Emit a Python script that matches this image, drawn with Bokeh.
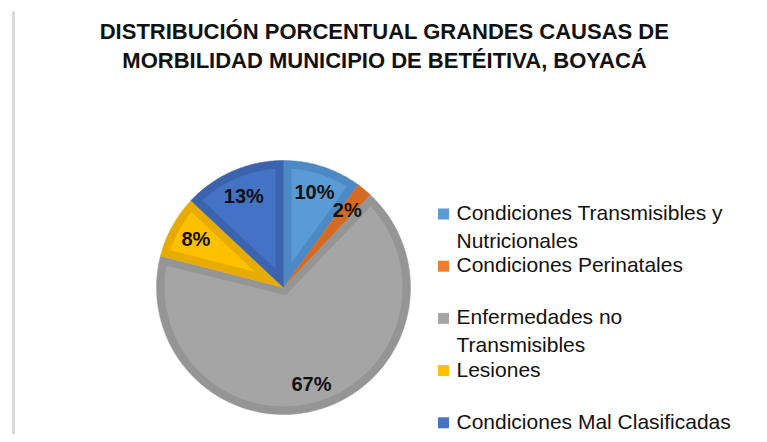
import numpy as np
from bokeh.plotting import figure
from bokeh.models import Range1d
from bokeh.core.properties import value
from bokeh.embed import file_html
from bokeh.resources import INLINE

# ---- data ----
categories = ["Condiciones Transmisibles y Nutricionales", "Condiciones Perinatales",
              "Enfermedades no Transmisibles", "Lesiones", "Condiciones Mal Clasificadas"]
legend_lines = [["Condiciones Transmisibles y", "Nutricionales"], ["Condiciones Perinatales"],
                ["Enfermedades no", "Transmisibles"], ["Lesiones"], ["Condiciones Mal Clasificadas"]]
percentages = [10, 2, 67, 8, 13]
fill_colors = ["#5B9BD5", "#ED7D31", "#A5A5A5", "#FFC000", "#4472C4"]
edge_colors = ["#4D89C4", "#D56A22", "#959595", "#E6AC00", "#3C63AD"]
title_lines = ["DISTRIBUCIÓN PORCENTUAL GRANDES CAUSAS DE", "MORBILIDAD MUNICIPIO DE BETÉITIVA, BOYACÁ"]

# ---- layout constants (pixel space of the figure) ----
W, H = 759, 434
CX, CY, R = 283.0, 287.0, 127.0
BORDER = 8.0
FONT = "Liberation Sans"

p = figure(width=W, height=H, output_backend="svg", toolbar_location=None,
           x_range=Range1d(0, W), y_range=Range1d(H, 0), min_border=0,
           outline_line_color=None)
p.axis.visible = False
p.grid.visible = False

# left light rule
p.segment(x0=[13], y0=[11], x1=[13], y1=[H], line_color="#D9D9D9", line_width=3)

def pt(a_deg, r, cx=CX, cy=CY):
    a = np.radians(a_deg)
    return cx + r * np.sin(a), cy - r * np.cos(a)

total = float(sum(percentages))
angles = np.cumsum([0] + [v / total * 360.0 for v in percentages])

outer_xs, outer_ys, inner_xs, inner_ys, inner_cols = [], [], [], [], []
for i in range(len(percentages)):
    a0, a1 = angles[i], angles[i + 1]
    arc = np.linspace(a0, a1, 80)
    x, y = pt(arc, R)
    outer_xs.append([CX] + list(x))
    outer_ys.append([CY] + list(y))
    half = np.radians((a1 - a0) / 2.0)
    shift = BORDER / np.sin(half) if half < np.pi / 2 else BORDER
    if shift < R - BORDER - 2:
        mid = (a0 + a1) / 2.0
        ax, ay = pt(mid, shift)
        ri = R - BORDER
        da = np.degrees(np.arcsin(min(1.0, BORDER / ri)))
        arc2 = np.linspace(a0 + da, a1 - da, 80)
        xi, yi = pt(arc2, ri)
        inner_xs.append([ax] + list(xi))
        inner_ys.append([ay] + list(yi))
        inner_cols.append(fill_colors[i])

p.patches(outer_xs, outer_ys, fill_color=edge_colors, line_color=edge_colors, line_width=0.5)
p.patches(inner_xs, inner_ys, fill_color=inner_cols, line_color=None)

# data labels
mids = (angles[:-1] + angles[1:]) / 2.0
lx, ly = pt(mids, 100.0)
p.text(x=list(lx), y=list(ly), text=[f"{v}%" for v in percentages],
       text_font=value(FONT), text_font_style="bold", text_font_size="20px",
       text_color="#111111", text_align="center", text_baseline="middle")

# title
p.text(x=[384, 384], y=[31, 60], text=title_lines, text_font=value(FONT),
       text_font_style="bold", text_font_size="22px", text_color="#111111",
       text_align="center", text_baseline="middle")

# legend
leg_y0, leg_step = 212.0, 52.2
sq_x, txt_x, line_gap = 443.0, 456.0, 27.5
sq_y = [leg_y0 + k * leg_step for k in range(len(categories))]
p.rect(x=[sq_x] * len(categories), y=[v + 1.5 for v in sq_y], width=11, height=11,
       fill_color=fill_colors, line_color=None)
tx, ty, tt = [], [], []
for k, lines in enumerate(legend_lines):
    for j, s in enumerate(lines):
        tx.append(txt_x)
        ty.append(sq_y[k] + j * line_gap)
        tt.append(s)
p.text(x=tx, y=ty, text=tt, text_font=value(FONT), text_font_size="21px",
       text_color="#111111", text_align="left", text_baseline="middle")

open("out.html", "w").write(file_html(p, INLINE))
